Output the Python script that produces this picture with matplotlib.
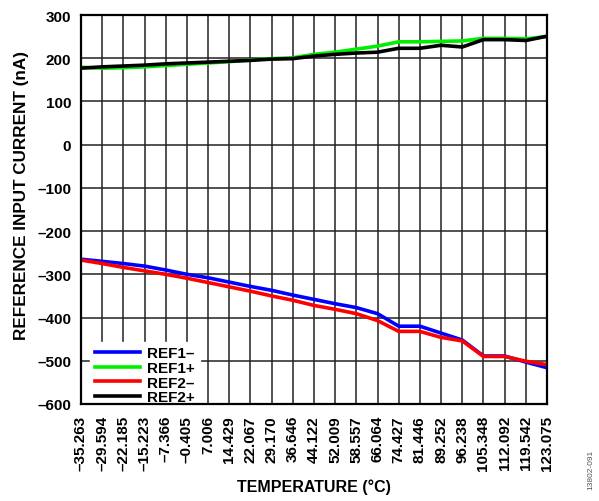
import matplotlib
matplotlib.use("Agg")
import matplotlib.pyplot as plt
import numpy as np

plt.rcParams['font.family'] = ['Liberation Sans', 'DejaVu Sans']
plt.rcParams['font.weight'] = 'bold'

temperatures = ["–35.263", "–29.594", "–22.185", "–15.223", "–7.366", "–0.405",
                "7.006", "14.429", "22.067", "29.170", "36.646", "44.122",
                "52.009", "58.557", "66.064", "74.427", "81.446", "89.252",
                "96.238", "105.348", "112.092", "119.542", "123.075"]

ref1_minus = [-265, -270, -275, -281, -290, -300, -308, -318, -328, -337, -348,
              -358, -368, -377, -391, -420, -420, -436, -452, -489, -489, -503, -516]
ref1_plus = [179, 177, 178, 180, 183, 186, 189, 192, 196, 199, 201,
             209, 214, 221, 228, 238, 238, 239, 240, 246, 246, 245, 250]
ref2_minus = [-267, -275, -284, -292, -300, -309, -319, -329, -339, -350, -360,
              -372, -381, -391, -407, -432, -432, -446, -454, -490, -490, -501, -509]
ref2_plus = [177, 180, 182, 184, 187, 189, 191, 193, 195, 198, 199,
             205, 209, 212, 214, 223, 223, 230, 226, 243, 243, 241, 251]

series_names = ["REF1–", "REF1+", "REF2–", "REF2+"]
series_colors = ["#0000ff", "#00ee00", "#ff0000", "#000000"]

yticks = [-600, -500, -400, -300, -200, -100, 0, 100, 200, 300]
ytick_labels = ["–600", "–500", "–400", "–300", "–200", "–100", "0", "100", "200", "300"]

fig = plt.figure(figsize=(5.99, 5.02), dpi=100)
ax = fig.add_axes([81/599, 1-405/502, (547-81)/599, (405-16)/502])

x = np.arange(len(temperatures))
for vals, name, col in zip([ref1_minus, ref1_plus, ref2_minus, ref2_plus], series_names, series_colors):
    ax.plot(x, vals, color=col, lw=2.6, label=name, solid_joinstyle='round', zorder=3)

ax.set_xlim(0, len(temperatures) - 1)
ax.set_ylim(-600, 300)
ax.set_xticks(x)
ax.set_xticklabels(temperatures, rotation=90, fontsize=11, fontweight='bold')
ax.set_yticks(yticks)
ax.set_yticklabels(ytick_labels, fontsize=11, fontweight='bold')
ax.tick_params(axis='x', length=0, pad=8)
ax.tick_params(axis='y', length=0, pad=7)
ax.grid(True, color='#222222', lw=1.1)
ax.set_axisbelow(True)
for s in ax.spines.values():
    s.set_linewidth(1.6)
    s.set_color('black')
    s.set_zorder(5)

ax.set_xlabel("TEMPERATURE (°C)", fontsize=11.5, fontweight='bold', labelpad=6)
ax.set_ylabel("REFERENCE INPUT CURRENT (nA)", fontsize=12.3, fontweight='bold')
ax.yaxis.set_label_coords(-52/466, (405-196)/389)

leg = ax.legend(loc='lower left', frameon=True, fancybox=False, borderaxespad=0.0,
                bbox_to_anchor=(9/466, -5/389),
                handlelength=2.95, handletextpad=0.5, labelspacing=0.05, borderpad=0.3,
                prop={'weight': 'bold', 'size': 11})
leg.get_frame().set_edgecolor('white')
leg.get_frame().set_facecolor('white')
leg.get_frame().set_alpha(1)
leg.set_zorder(4)

fig.text(591/599, 1-470/502, "13802-091", rotation=90, fontsize=6, color='#555555',
         ha='center', va='center', fontweight='normal')

fig.savefig("out.png", dpi=100)
